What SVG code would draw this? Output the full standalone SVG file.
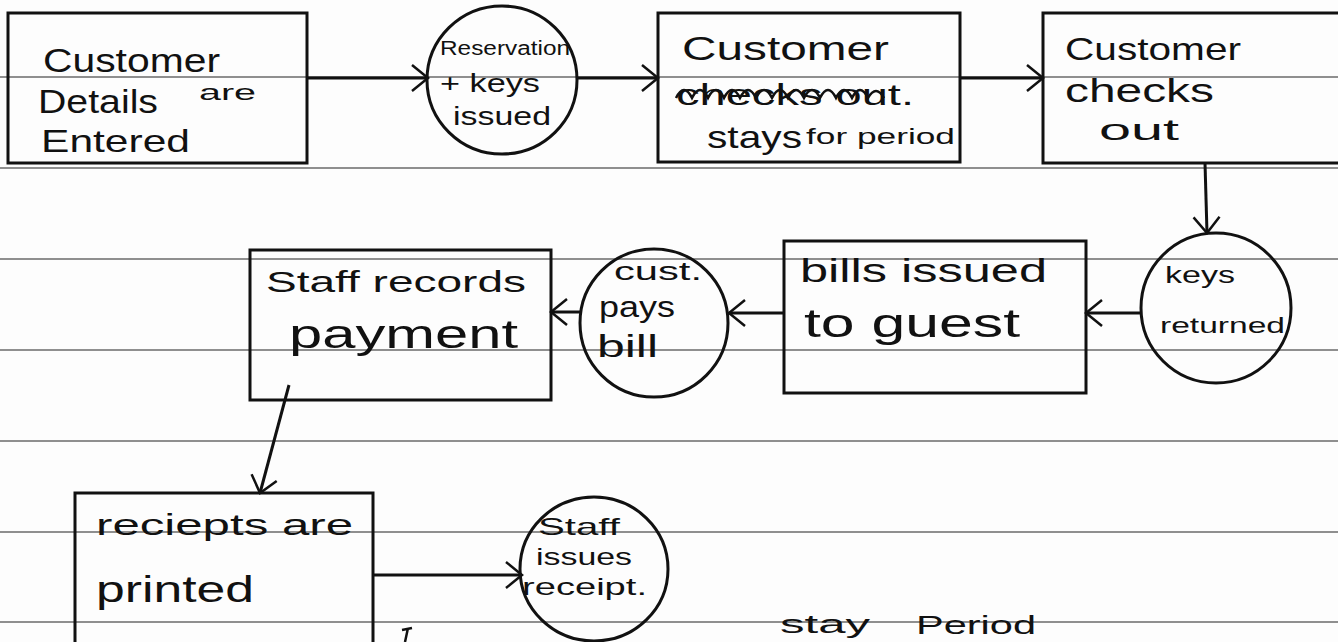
<svg xmlns="http://www.w3.org/2000/svg" width="1338" height="642" viewBox="0 0 1338 642">
<style>
.rule{stroke:#6a6a6a;stroke-width:1.3;fill:none}
.node{fill:none;stroke:#111;stroke-width:3}
.conn{fill:none;stroke:#111;stroke-width:3;marker-end:url(#arr)}
.t{font-family:"Liberation Sans","DejaVu Sans",sans-serif;fill:#111}
.scrib{fill:none;stroke:#111;stroke-width:2.5}
</style>
<defs>
<marker id="arr" markerUnits="userSpaceOnUse" viewBox="0 0 20 30" markerWidth="20" markerHeight="30" refX="18" refY="15" orient="auto">
<path d="M2,2 L18,15 L2,28" fill="none" stroke="#111" stroke-width="2.5"/>
</marker>
</defs>
<rect x="0" y="0" width="1338" height="642" fill="#fdfdfd"/>
<g id="paper-lines">
<line class="rule" x1="0" y1="77" x2="1338" y2="77"/>
<line class="rule" x1="0" y1="168" x2="1338" y2="168"/>
<line class="rule" x1="0" y1="259" x2="1338" y2="259"/>
<line class="rule" x1="0" y1="350" x2="1338" y2="350"/>
<line class="rule" x1="0" y1="441" x2="1338" y2="441"/>
<line class="rule" x1="0" y1="532" x2="1338" y2="532"/>
<line class="rule" x1="0" y1="622" x2="1338" y2="622"/>
</g>
<g id="connectors">
<line class="conn" x1="307" y1="78" x2="428" y2="78"/>
<line class="conn" x1="578" y1="78" x2="658" y2="78"/>
<line class="conn" x1="960" y1="78" x2="1043" y2="78"/>
<line class="conn" x1="1205" y1="163" x2="1207" y2="233"/>
<line class="conn" x1="1141" y1="313" x2="1086" y2="313"/>
<line class="conn" x1="784" y1="313" x2="729" y2="313"/>
<line class="conn" x1="580" y1="312" x2="551" y2="312"/>
<line class="conn" x1="289" y1="385" x2="260" y2="493"/>
<line class="conn" x1="373" y1="575" x2="522" y2="575"/>
</g>
<g id="customer-details">
<rect class="node" x="8" y="13" width="299" height="150"/>
<text class="t" x="43" y="72" font-size="34" textLength="177" lengthAdjust="spacingAndGlyphs">Customer</text>
<text class="t" x="38" y="113" font-size="34" textLength="120" lengthAdjust="spacingAndGlyphs">Details</text>
<text class="t" x="199" y="100" font-size="22" textLength="57" lengthAdjust="spacingAndGlyphs">are</text>
<text class="t" x="41" y="152" font-size="32" textLength="149" lengthAdjust="spacingAndGlyphs">Entered</text>
</g>
<g id="reservation">
<ellipse class="node" cx="502" cy="80" rx="75" ry="74"/>
<text class="t" x="440" y="55" font-size="20" textLength="130" lengthAdjust="spacingAndGlyphs">Reservation</text>
<text class="t" x="440" y="92" font-size="26" textLength="100" lengthAdjust="spacingAndGlyphs">+ keys</text>
<text class="t" x="453" y="125" font-size="26" textLength="98" lengthAdjust="spacingAndGlyphs">issued</text>
</g>
<g id="customer-stays">
<rect class="node" x="658" y="13" width="302" height="149"/>
<text class="t" x="682" y="60" font-size="34" textLength="207" lengthAdjust="spacingAndGlyphs">Customer</text>
<text class="t" x="676" y="105" font-size="30" textLength="238" lengthAdjust="spacingAndGlyphs">checks out.</text>
<path class="scrib" d="M676,98 q8,-16 16,0 q8,-16 16,0 q8,-16 16,0 q8,-16 16,0 q8,-16 16,0 q8,-16 16,0 q8,-16 16,0 q8,-16 16,0 q8,-16 16,0 q8,-16 16,0 q8,-16 16,0 q8,-16 16,0 q8,-14 16,0"/>
<text class="t" x="707" y="148" font-size="32" textLength="95" lengthAdjust="spacingAndGlyphs">stays</text>
<text class="t" x="806" y="144" font-size="22" textLength="149" lengthAdjust="spacingAndGlyphs">for period</text>
</g>
<g id="customer-checks-out">
<rect class="node" x="1043" y="13" width="310" height="150"/>
<text class="t" x="1065" y="60" font-size="32" textLength="176" lengthAdjust="spacingAndGlyphs">Customer</text>
<text class="t" x="1065" y="102" font-size="34" textLength="149" lengthAdjust="spacingAndGlyphs">checks</text>
<text class="t" x="1099" y="140" font-size="30" textLength="80" lengthAdjust="spacingAndGlyphs">out</text>
</g>
<g id="keys-returned">
<ellipse class="node" cx="1216" cy="308" rx="75" ry="75"/>
<text class="t" x="1165" y="283" font-size="24" textLength="70" lengthAdjust="spacingAndGlyphs">keys</text>
<text class="t" x="1160" y="333" font-size="22" textLength="125" lengthAdjust="spacingAndGlyphs">returned</text>
</g>
<g id="bills-issued">
<rect class="node" x="784" y="241" width="302" height="152"/>
<text class="t" x="800" y="282" font-size="34" textLength="247" lengthAdjust="spacingAndGlyphs">bills issued</text>
<text class="t" x="804" y="337" font-size="40" textLength="216" lengthAdjust="spacingAndGlyphs">to guest</text>
</g>
<g id="cust-pays-bill">
<ellipse class="node" cx="654" cy="323" rx="74" ry="74"/>
<text class="t" x="614" y="280" font-size="26" textLength="88" lengthAdjust="spacingAndGlyphs">cust.</text>
<text class="t" x="599" y="317" font-size="30" textLength="76" lengthAdjust="spacingAndGlyphs">pays</text>
<text class="t" x="597" y="357" font-size="32" textLength="61" lengthAdjust="spacingAndGlyphs">bill</text>
</g>
<g id="staff-records">
<rect class="node" x="250" y="250" width="301" height="150"/>
<text class="t" x="266" y="292" font-size="30" textLength="260" lengthAdjust="spacingAndGlyphs">Staff records</text>
<text class="t" x="289" y="348" font-size="40" textLength="229" lengthAdjust="spacingAndGlyphs">payment</text>
</g>
<g id="reciepts-printed">
<rect class="node" x="75" y="493" width="298" height="170"/>
<text class="t" x="96" y="535" font-size="30" textLength="257" lengthAdjust="spacingAndGlyphs">reciepts are</text>
<text class="t" x="96" y="602" font-size="36" textLength="158" lengthAdjust="spacingAndGlyphs">printed</text>
</g>
<g id="staff-issues-receipt">
<ellipse class="node" cx="594" cy="569" rx="74" ry="72"/>
<text class="t" x="538" y="535" font-size="24" textLength="82" lengthAdjust="spacingAndGlyphs">Staff</text>
<text class="t" x="536" y="565" font-size="24" textLength="96" lengthAdjust="spacingAndGlyphs">issues</text>
<text class="t" x="522" y="595" font-size="24" textLength="125" lengthAdjust="spacingAndGlyphs">receipt.</text>
</g>
<g id="notes">
<path class="scrib" d="M405,642 L408,628 M402,630 L412,628" stroke-width="2"/>
<text class="t" x="780" y="633" font-size="26" textLength="90" lengthAdjust="spacingAndGlyphs">stay</text>
<text class="t" x="916" y="634" font-size="26" textLength="120" lengthAdjust="spacingAndGlyphs">Period</text>
</g>
</svg>
